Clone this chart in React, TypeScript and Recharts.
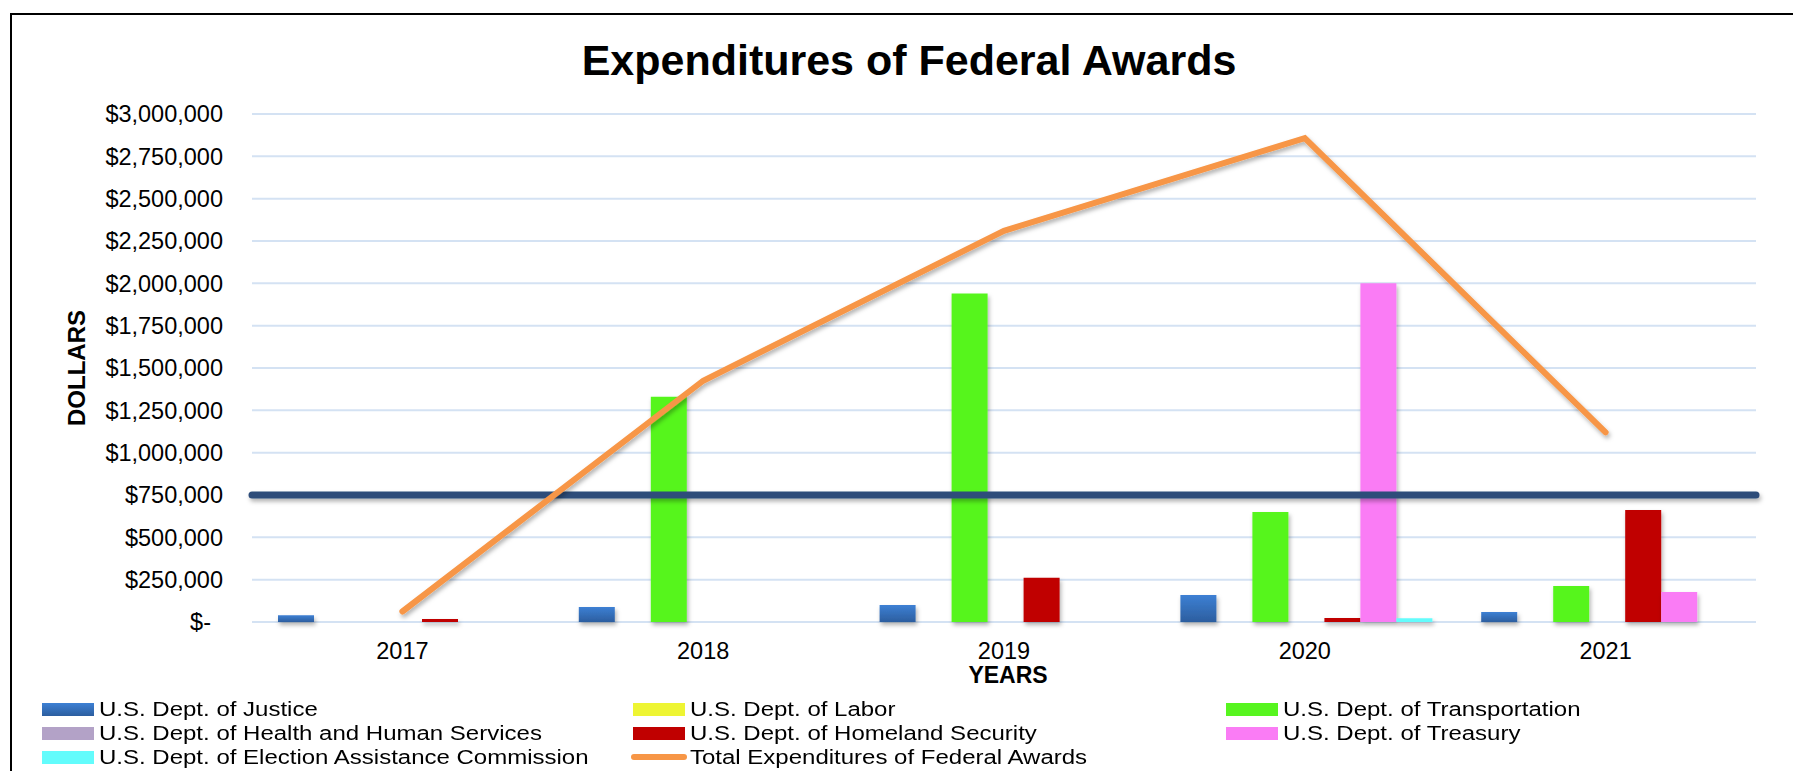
import { ComposedChart, Bar, Line, XAxis, YAxis, CartesianGrid, ReferenceLine } from 'recharts';

const years = ['2017', '2018', '2019', '2020', '2021'];
const justice = [40000, 89000, 100000, 160000, 59000];
const labor = [0, 0, 0, 0, 0];
const transportation = [0, 1330000, 1940000, 650000, 213000];
const healthHuman = [0, 0, 0, 0, 0];
const homeland = [18000, 0, 262000, 24000, 662000];
const treasury = [0, 0, 0, 2000000, 177000];
const election = [0, 0, 0, 22000, 0];
const totals = [62000, 1425000, 2310000, 2858000, 1120000];
const threshold = 750000;
const yTicks = [0, 250000, 500000, 750000, 1000000, 1250000, 1500000, 1750000, 2000000, 2250000, 2500000, 2750000, 3000000];

const seriesNames = [
  'U.S. Dept. of Justice',
  'U.S. Dept. of Labor',
  'U.S. Dept. of Transportation',
  'U.S. Dept. of Health and Human Services',
  'U.S. Dept. of Homeland Security',
  'U.S. Dept. of Treasury',
  'U.S. Dept. of Election Assistance Commission',
  'Total Expenditures of Federal Awards',
];
const seriesKeys = ['justice', 'labor', 'transportation', 'healthHuman', 'homeland', 'treasury', 'election', 'total'];
const seriesColors = ['url(#justiceGrad)', '#EEF533', '#57F51F', '#B3A2C7', '#C00000', '#FA7CF5', '#63FCFC', '#F79646'];

const data = years.map((year, i) => ({
  year,
  justice: justice[i],
  labor: labor[i],
  transportation: transportation[i],
  healthHuman: healthHuman[i],
  homeland: homeland[i],
  treasury: treasury[i],
  election: election[i],
  total: totals[i],
}));

const FONT = '"Liberation Sans", Arial, sans-serif';

const money = (v: number) => (v === 0 ? '$-' : '$' + v.toLocaleString('en-US'));

function YTick({ x, y, payload }: any) {
  // accounting format pads the dash, so "$-" sits a bit further left
  const shift = payload.value === 0 ? 12 : 0;
  return (
    <text x={x - shift} y={y} dy="0.355em" textAnchor="end" fontSize={23.5} fill="#000" fontFamily={FONT}>
      {money(payload.value)}
    </text>
  );
}

function LegendBlock() {
  const colX = [42, 633, 1226];
  const rowY = [709, 733, 757];
  return (
    <>
      {seriesNames.map((name, i) => {
        const isLine = seriesKeys[i] === 'total';
        const swatchBg = i === 0 ? 'linear-gradient(#3D80D4, #2C5E9F)' : seriesColors[i];
        return (
          <div
            key={name}
            style={{
              position: 'absolute',
              left: colX[i % 3],
              top: rowY[Math.floor(i / 3)] - 12,
              height: 24,
              display: 'flex',
              alignItems: 'center',
              whiteSpace: 'nowrap',
            }}
          >
            <div
              style={{
                width: isLine ? 56 : 52,
                height: isLine ? 6 : 13,
                borderRadius: isLine ? 3 : 0,
                background: swatchBg,
                marginLeft: isLine ? -2 : 0,
                marginRight: isLine ? 3 : 5,
              }}
            />
            <span style={{ fontSize: 20, lineHeight: '22px', display: 'inline-block', transform: 'scaleX(1.2)', transformOrigin: 'left center', color: '#000' }}>
              {name}
            </span>
          </div>
        );
      })}
    </>
  );
}

export default function App() {
  return (
    <div style={{ position: 'fixed', left: 0, top: 0, width: 1793, height: 771, overflow: 'hidden', background: '#fff', fontFamily: FONT }}>
      <div style={{ position: 'absolute', left: 10, top: 13, width: 1820, height: 800, border: '2px solid #000', boxSizing: 'border-box' }} />
      <div style={{ position: 'absolute', left: 909, top: 38.6, transform: 'translateX(-50%)', fontSize: 43, fontWeight: 'bold', lineHeight: 1, whiteSpace: 'nowrap' }}>
        Expenditures of Federal Awards
      </div>
      <div style={{ position: 'absolute', left: 0, top: 0 }}>
        <ComposedChart width={1793} height={771} data={data} margin={{ top: 114, right: 37, left: 0, bottom: 87 }} barCategoryGap={26} barGap={0}>
          <defs>
            <linearGradient id="justiceGrad" x1="0" y1="0" x2="0" y2="1">
              <stop offset="0%" stopColor="#3D80D4" />
              <stop offset="100%" stopColor="#2C5E9F" />
            </linearGradient>
            <filter id="shade" filterUnits="userSpaceOnUse" x="0" y="0" width="1793" height="771">
              <feDropShadow dx="1.5" dy="3" stdDeviation="2" floodColor="#000" floodOpacity="0.3" />
            </filter>
          </defs>
          <CartesianGrid vertical={false} stroke="#D4E2F3" strokeWidth={2} />
          <XAxis
            dataKey="year"
            axisLine={false}
            tickLine={false}
            tickSize={0}
            tickMargin={20}
            height={62}
            tick={{ fontSize: 23.5, fill: '#000', fontFamily: FONT }}
            label={{ value: 'YEARS', position: 'insideBottom', offset: 1, dx: 4, fontSize: 23, fontWeight: 'bold', fill: '#000', fontFamily: FONT }}
          />
          <YAxis
            width={252}
            domain={[0, 3000000]}
            ticks={yTicks}
            interval={0}
            axisLine={false}
            tickLine={false}
            tickSize={0}
            tickMargin={29}
            tick={<YTick />}
            label={{ value: 'DOLLARS', angle: -90, position: 'center', dx: -50, fontSize: 24, fontWeight: 'bold', fill: '#000', fontFamily: FONT }}
          />
          {seriesKeys.slice(0, 7).map((key, i) => (
            <Bar key={key} dataKey={key} name={seriesNames[i]} fill={seriesColors[i]} filter="url(#shade)" isAnimationActive={false} />
          ))}
          <ReferenceLine y={threshold} stroke="#2F4E7A" strokeWidth={7} strokeLinecap="round" filter="url(#shade)" />
          <Line
            type="linear"
            dataKey="total"
            name={seriesNames[7]}
            stroke={seriesColors[7]}
            strokeWidth={6}
            strokeLinecap="round"
            dot={false}
            activeDot={false}
            filter="url(#shade)"
            isAnimationActive={false}
          />
        </ComposedChart>
      </div>
      <LegendBlock />
    </div>
  );
}
